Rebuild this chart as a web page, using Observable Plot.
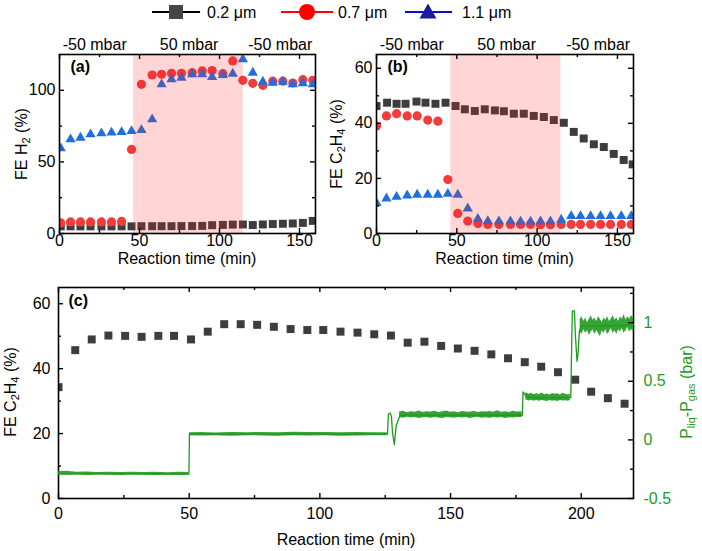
<!DOCTYPE html>
<html><head><meta charset="utf-8">
<script src="https://cdn.jsdelivr.net/npm/d3@7"></script>
<script src="https://cdn.jsdelivr.net/npm/@observablehq/plot@0.6"></script>
<style>
body{margin:0;background:#fff;}
#wrap{position:relative;width:702px;height:551px;overflow:hidden;font-family:"Liberation Sans",Arial,sans-serif;background:#fff;}
.lab{position:absolute;font-size:16px;white-space:nowrap;color:#000;line-height:1;}
.h{transform:translate(-50%,-50%);}
.rot{transform:translate(-50%,-50%) rotate(-90deg);}
sub{font-size:11px;vertical-align:-3px;line-height:0;}
</style></head><body><div id="wrap"></div>
<script>
// ---------- data ----------
const seriesNames = ["0.2 μm", "0.7 μm", "1.1 μm"];
const pressureLabels = ["-50 mbar", "50 mbar", "-50 mbar"];
const pressureLabelTime = [22, 81, 138];
const shadeTimes = [46.3, 114.8];

// panel (a): FE H2
const aTime = [0.8, 6.9, 13.1, 19.4, 26.2, 32.5, 38.8, 45, 51.2, 57.9, 63.8, 70, 76.2, 82.9, 89.2, 95.4, 102.1, 108.3, 114.6, 120.8, 127.1, 133.3, 139.6, 145.8, 152.1, 158.3];
const aSmall = [5.0, 5.0, 5.0, 5.0, 5.0, 5.0, 5.0, 5.0, 5.1, 5.1, 5.1, 5.1, 5.2, 5.2, 5.3, 5.8, 6.0, 6.2, 6.3, 5.9, 6.3, 6.6, 6.8, 7.0, 7.4, 8.8];
const aMid = [7.4, 8.1, 8.1, 8.1, 8.1, 8.1, 8.4, 58.7, 104.2, 110.7, 111.2, 111.9, 111.9, 112.3, 113.5, 113.8, 111.6, 120.5, 107, 104.9, 103.5, 106.4, 106.4, 105.1, 107.4, 107];
const aLarge = [59.5, 65.7, 66.9, 69.2, 69.9, 70.5, 70.8, 71.5, 72.2, 79.7, 104.2, 107.7, 108.8, 111.2, 111.2, 109.3, 110.7, 111.6, 121.7, 112.3, 106, 105.3, 106, 104.2, 104.9, 104.2];

// panel (b): FE C2H4
const bTimeSmall = [0, 6.6, 12.5, 18.1, 24.9, 30.5, 36.7, 43, 49.2, 55, 61.2, 67.4, 73.7, 79.3, 85.5, 91.7, 97.9, 104.2, 110.4, 116.6, 122.8, 129, 135.3, 141.5, 147.7, 153.9, 159.5];
const bSmall = [46.3, 47.5, 47.1, 47.1, 47.9, 47.5, 47.1, 47.5, 46.3, 45.1, 44.5, 45.1, 44.7, 44.4, 43.5, 43.5, 42.7, 42.3, 41.2, 40.2, 36.9, 34.5, 32.4, 31.4, 28.9, 26.7, 25.1];
const bTime = [0, 6.2, 12.5, 19.1, 25.3, 31.9, 38.2, 44.4, 50.6, 56.8, 63.1, 69.3, 76.2, 83.4, 89.7, 95.9, 102.1, 108.3, 115, 121.2, 127, 133.3, 139.5, 145.7, 152.4, 158.6];
const bMid = [39, 42.7, 43.5, 42.7, 42.7, 41.2, 40.8, 19.6, 7.3, 4.5, 3.6, 3.3, 3.3, 3.3, 3.3, 3.3, 3.2, 3.2, 3.3, 3.3, 3.3, 3.3, 3.3, 3.3, 3.3, 3.3];
const bLarge = [11.1, 12.7, 13.3, 13.8, 14.1, 14.1, 14.1, 14.4, 14.1, 9.1, 5.3, 4.5, 4.4, 4.4, 4.3, 4.3, 4.4, 4.4, 5.0, 6.3, 6.3, 6.3, 6.3, 6.3, 6.3, 6.3];

// panel (c): long run, FE C2H4 and pressure difference
const cTime = [0, 6.4, 12.7, 19.1, 25.5, 31.8, 38.2, 44.2, 50.7, 57.1, 63.4, 69.7, 76, 82.4, 88.8, 95.2, 101.3, 107.9, 114.4, 120.8, 127.2, 133.6, 140, 146.4, 152.8, 159.2, 165.6, 172, 178.4, 184.7, 191.1, 197.7, 203.8, 210.2, 216.6];
const cFE = [34.3, 45.7, 49, 50.2, 50.1, 49.8, 50.1, 50.1, 49, 51.4, 53.7, 53.7, 53.5, 52.9, 52.2, 51.9, 51.9, 51.4, 51.1, 50.6, 50.2, 48, 48.3, 47, 46.2, 45.5, 44.4, 43.2, 42, 40.6, 38.9, 36.6, 32.9, 30.9, 29.2];
const pTime = [0, 10, 20, 30, 40, 49.9, 50.1, 60, 70, 80, 90, 100, 110, 120, 125.9, 126.2, 126.9, 127.4, 127.8, 128.5, 129.2, 130.5, 131.5, 140, 150, 160, 170, 177.5, 177.7, 178.6, 180.5, 185, 190, 196.0, 196.3, 196.6, 197.4, 197.8, 198.4, 198.8, 199.3, 200, 205, 210, 215, 220];
const pDiff = [-0.29, -0.29, -0.288, -0.29, -0.29, -0.29, 0.05, 0.048, 0.05, 0.05, 0.05, 0.05, 0.048, 0.05, 0.05, 0.22, 0.23, 0.2, 0.06, -0.04, 0.12, 0.2, 0.212, 0.212, 0.21, 0.212, 0.21, 0.21, 0.41, 0.38, 0.36, 0.36, 0.36, 0.36, 0.75, 1.1, 1.1, 0.88, 0.67, 0.74, 0.93, 0.97, 0.97, 0.975, 0.97, 0.985];
const pressureSteps = [50, 128, 178, 197];
// noise envelope of the pressure trace
const nTime = [0, 3, 7, 11, 15, 19, 24, 28, 33, 37, 42, 46, 49.9,
  50.1, 55, 60, 66, 72, 78, 84, 90, 96, 102, 108, 114, 120, 125.8,
  130.5, 132, 133.5, 135, 136.5, 138, 139.5, 141, 142.5, 144, 145.5, 147, 148.5, 150, 151.5, 153, 154.5, 156, 157.5, 159, 160.5, 162, 163.5, 165, 166.5, 168, 169.5, 171, 172.5, 174, 175.5, 177.4,
  178.8, 180, 181, 182, 183, 184, 185, 186, 187, 188, 189, 190, 191, 192, 193, 194, 195, 195.8,
  199.6, 200.3, 201, 201.7, 202.4, 203.1, 203.8, 204.5, 205.2, 205.9, 206.6, 207.3, 208, 208.7, 209.4, 210.1, 210.8, 211.5, 212.2, 212.9, 213.6, 214.3, 215, 215.7, 216.4, 217.1, 217.8, 218.5, 219.2, 220];
const nHigh = [-0.272, -0.268, -0.276, -0.273, -0.278, -0.275, -0.279, -0.276, -0.279, -0.277, -0.28, -0.276, -0.279,
  0.06, 0.062, 0.058, 0.063, 0.06, 0.064, 0.061, 0.066, 0.062, 0.064, 0.06, 0.063, 0.061, 0.06,
  0.238, 0.245, 0.232, 0.241, 0.236, 0.247, 0.234, 0.24, 0.237, 0.244, 0.233, 0.239, 0.246, 0.235, 0.241, 0.232, 0.243, 0.238, 0.236, 0.245, 0.234, 0.24, 0.237, 0.243, 0.235, 0.248, 0.236, 0.241, 0.233, 0.244, 0.238, 0.24,
  0.405, 0.39, 0.398, 0.385, 0.394, 0.388, 0.399, 0.386, 0.392, 0.384, 0.396, 0.389, 0.393, 0.383, 0.397, 0.39, 0.386, 0.392,
  1.03, 1.05, 1.01, 1.04, 1.0, 1.03, 1.06, 1.02, 1.04, 1.01, 1.05, 1.03, 1.0, 1.04, 1.02, 1.05, 1.01, 1.03, 1.06, 1.02, 1.04, 1.01, 1.05, 1.03, 1.07, 1.02, 1.05, 1.03, 1.06, 1.04];
const nLow = [-0.3, -0.302, -0.298, -0.303, -0.3, -0.301, -0.304, -0.3, -0.302, -0.303, -0.301, -0.304, -0.302,
  0.035, 0.033, 0.036, 0.032, 0.035, 0.034, 0.031, 0.036, 0.033, 0.035, 0.032, 0.034, 0.036, 0.035,
  0.19, 0.184, 0.193, 0.186, 0.191, 0.183, 0.189, 0.192, 0.185, 0.19, 0.187, 0.182, 0.191, 0.188, 0.184, 0.192, 0.186, 0.19, 0.183, 0.189, 0.193, 0.185, 0.188, 0.184, 0.191, 0.186, 0.19, 0.183, 0.189, 0.186, 0.192, 0.19,
  0.34, 0.332, 0.338, 0.33, 0.336, 0.329, 0.335, 0.331, 0.327, 0.336, 0.33, 0.334, 0.328, 0.337, 0.331, 0.333, 0.329, 0.335,
  0.92, 0.9, 0.94, 0.91, 0.93, 0.89, 0.92, 0.94, 0.9, 0.93, 0.91, 0.88, 0.93, 0.91, 0.94, 0.9, 0.92, 0.95, 0.91, 0.93, 0.9, 0.94, 0.92, 0.95, 0.91, 0.93, 0.96, 0.92, 0.94, 0.93];

// ticks
const xTicksAB = [0, 50, 100, 150], xMinorAB = [25, 75, 125];
const yTicksA = [0, 50, 100], yMinorA = [25, 75];
const yTicksB = [0, 20, 40, 60], yMinorB = [10, 30, 50];
const xTicksC = [0, 50, 100, 150, 200], xMinorC = [25, 75, 125, 175];
const yTicksC = [0, 20, 40, 60], yMinorC = [10, 30, 50];
const yTicksP = [-0.5, 0, 0.5, 1], yMinorP = [-0.25, 0.25, 0.75, 1.25];

// ---------- drawing ----------
const FONT = '"Liberation Sans", Arial, Helvetica, sans-serif';
const SQ = "#3d3d3d", RED = "#f23b3b", BLUE = "#1f6fde", GREEN = "#1f9a1f";
const style = {fontFamily: FONT, fontSize: "16px", color: "#000", background: "transparent", overflow: "visible"};
const wrap = document.getElementById("wrap");

function ticks(axis, sides, vals, len, fw, fh, color = "#000") {
  const o = {stroke: color, strokeWidth: 1.4};
  const m = [];
  if (axis === "x") {
    if (sides.includes("bottom")) m.push(Plot.tickX(vals, {x: d => d, insetTop: fh - len, ...o}));
    if (sides.includes("top")) m.push(Plot.tickX(vals, {x: d => d, insetBottom: fh - len, ...o}));
  } else {
    if (sides.includes("left")) m.push(Plot.tickY(vals, {y: d => d, insetRight: fw - len, ...o}));
    if (sides.includes("right")) m.push(Plot.tickY(vals, {y: d => d, insetLeft: fw - len, ...o}));
  }
  return m;
}
function place(el, left, top) {
  el.style.position = "absolute"; el.style.left = left + "px"; el.style.top = top + "px";
  wrap.appendChild(el);
}
function label(html, cx, cy, cls, color) {
  const d = document.createElement("div");
  d.className = "lab " + cls; d.innerHTML = html;
  d.style.left = cx + "px"; d.style.top = cy + "px";
  if (color) d.style.color = color;
  wrap.appendChild(d);
}

function topPanel(cfg) {
  const fw = cfg.width - cfg.ml - cfg.mr, fh = cfg.height - cfg.mt - cfg.mb;
  return Plot.plot({
    width: cfg.width, height: cfg.height,
    marginLeft: cfg.ml, marginRight: cfg.mr, marginTop: cfg.mt, marginBottom: cfg.mb,
    style,
    x: {domain: [0, 160]},
    y: {domain: cfg.ydomain},
    marks: [
      Plot.dot(cfg.sqT, {x: d => d, y: (d, i) => cfg.sq[i], symbol: "square", r: 4.5, fill: SQ, clip: true}),
      Plot.dot(cfg.t, {x: d => d, y: (d, i) => cfg.mid[i], symbol: "circle", r: 4.6, fill: RED, clip: true}),
      Plot.dot(cfg.t, {x: d => d, y: (d, i) => cfg.large[i], symbol: "triangle", r: 3.8, fill: BLUE, clip: true}),
      Plot.rect([shadeTimes], {x1: d => d[0], x2: d => d[1], fill: "#ff1f1f", fillOpacity: 0.19}),
      Plot.frame({stroke: "#000", strokeWidth: 1.6}),
      ...ticks("x", ["bottom", "top"], xTicksAB, 5, fw, fh),
      ...ticks("x", ["bottom", "top"], xMinorAB, 3, fw, fh),
      ...ticks("y", ["left", "right"], cfg.yt, 5, fw, fh),
      ...ticks("y", ["left", "right"], cfg.ym, 3, fw, fh),
      Plot.axisX({ticks: xTicksAB, tickSize: 0, tickPadding: 1.5, label: null}),
      Plot.axisY({ticks: cfg.yt, tickSize: 0, tickPadding: 4, label: null}),
      Plot.text(pressureLabels, {x: (d, i) => pressureLabelTime[i], text: d => d, frameAnchor: "top", dy: -10, lineAnchor: "middle", fontSize: 16}),
      Plot.text([cfg.tag], {text: d => d, frameAnchor: "top-left", dx: 11, dy: 6, lineAnchor: "top", textAnchor: "start", fontWeight: "bold", fontSize: 16})
    ]
  });
}

place(topPanel({width: 340, height: 245, ml: 59, mr: 25, mt: 24, mb: 42, ydomain: [0, 125],
  sqT: aTime, sq: aSmall, t: aTime, mid: aMid, large: aLarge, yt: yTicksA, ym: yMinorA, tag: "(a)"}), 0, 30);
place(topPanel({width: 362, height: 245, ml: 36, mr: 69, mt: 24, mb: 42, ydomain: [0, 65],
  sqT: bTimeSmall, sq: bSmall, t: bTime, mid: bMid, large: bLarge, yt: yTicksB, ym: yMinorB, tag: "(b)"}), 340, 30);

// panel (c)
const C = {width: 702, height: 281, ml: 58, mr: 69, mt: 17, mb: 53};
const cfw = C.width - C.ml - C.mr, cfh = C.height - C.mt - C.mb;
const panelC = Plot.plot({
  width: C.width, height: C.height, marginLeft: C.ml, marginRight: C.mr, marginTop: C.mt, marginBottom: C.mb,
  style,
  x: {domain: [0, 220]}, y: {domain: [0, 65]},
  marks: [
    Plot.dot(cTime, {x: d => d, y: (d, i) => cFE[i], symbol: "square", r: 4.5, fill: SQ, clip: true}),
    Plot.frame({stroke: "#000", strokeWidth: 1.6}),
    ...ticks("x", ["bottom", "top"], xTicksC, 5, cfw, cfh),
    ...ticks("x", ["bottom", "top"], xMinorC, 3, cfw, cfh),
    ...ticks("y", ["left"], yTicksC, 5, cfw, cfh),
    ...ticks("y", ["left"], yMinorC, 3, cfw, cfh),
    Plot.axisX({ticks: xTicksC, tickSize: 0, tickPadding: 9, label: null}),
    Plot.axisY({ticks: yTicksC, tickSize: 0, tickPadding: 8, label: null}),
    Plot.text(["(c)"], {text: d => d, frameAnchor: "top-left", dx: 10, dy: 7, lineAnchor: "top", textAnchor: "start", fontWeight: "bold", fontSize: 16})
  ]
});
place(panelC, 0, 270);
const segOf = t => pressureSteps.filter(s => t > s).length;
const panelP = Plot.plot({
  width: C.width, height: C.height, marginLeft: C.ml, marginRight: C.mr, marginTop: C.mt, marginBottom: C.mb,
  style,
  x: {domain: [0, 220], axis: null}, y: {domain: [-0.5, 1.3], axis: null},
  marks: [
    Plot.areaY(nTime, {x: d => d, y1: (d, i) => nLow[i], y2: (d, i) => nHigh[i], z: d => segOf(d), fill: GREEN, fillOpacity: 0.9}),
    Plot.line(pTime, {x: d => d, y: (d, i) => pDiff[i], stroke: GREEN, strokeWidth: 1.3}),
    ...ticks("y", ["right"], yTicksP, 5, cfw, cfh),
    ...ticks("y", ["right"], yMinorP, 3, cfw, cfh),
    Plot.axisY({anchor: "right", ticks: yTicksP, tickSize: 0, tickPadding: 10, label: null, tickFormat: d => String(d), color: GREEN})
  ]
});
place(panelP, 0, 270);

// axis titles
label("FE H<sub>2</sub> (%)", 22, 144, "rot");
label("FE C<sub>2</sub>H<sub>4</sub> (%)", 337, 144, "rot");
label("Reaction time (min)", 187, 259, "h");
label("Reaction time (min)", 504.5, 259, "h");
label("FE C<sub>2</sub>H<sub>4</sub> (%)", 11, 392, "rot");
label("P<sub>liq</sub>-P<sub>gas</sub> (bar)", 687, 392, "rot", GREEN);
label("Reaction time (min)", 346, 540, "h");

// legend
const ns = "http://www.w3.org/2000/svg";
const lg = document.createElementNS(ns, "svg");
lg.setAttribute("width", 702); lg.setAttribute("height", 28);
lg.style.fontFamily = FONT;
const legendItems = [
  {x0: 152, x1: 200, line: "#000", sym: `<rect x="169" y="5" width="14" height="14" fill="#444"/>`, tx: 207},
  {x0: 281, x1: 333, line: "#ff0000", sym: `<circle cx="307" cy="12" r="8" fill="#ff0000"/>`, tx: 338},
  {x0: 405, x1: 452, line: "#0a0ac8", sym: `<path d="M428,3.5L436.5,18.5L419.5,18.5Z" fill="#1c1c9c"/>`, tx: 462}
];
lg.innerHTML = legendItems.map((it, i) =>
  `<line x1="${it.x0}" x2="${it.x1}" y1="12" y2="12" stroke="${it.line}" stroke-width="2"/>${it.sym}` +
  `<text x="${it.tx}" y="17.5" font-size="16" fill="#000">${seriesNames[i]}</text>`).join("");
place(lg, 0, 0);
</script></body></html>
